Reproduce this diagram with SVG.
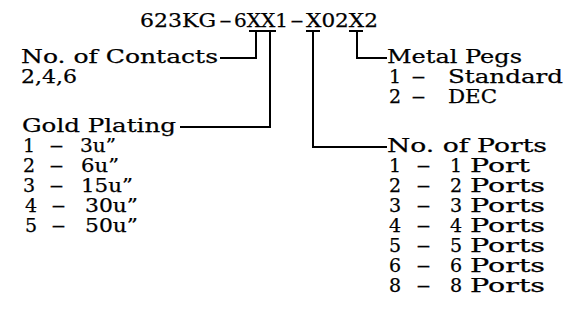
<svg xmlns="http://www.w3.org/2000/svg" width="569" height="325" viewBox="0 0 569 325">
<style>
text{font-family:"DejaVu Serif","Liberation Serif",serif;font-size:19px;fill:#000;stroke:#000;stroke-width:0.25}
.c{fill:none;stroke:#000;stroke-width:2}
</style>
<rect width="569" height="325" fill="#fff"/>
<g id="title">
<text x="140" y="27" textLength="76" lengthAdjust="spacingAndGlyphs">623KG</text>
<text x="219" y="27" textLength="13" lengthAdjust="spacingAndGlyphs">-</text>
<text x="234" y="27" textLength="54" lengthAdjust="spacingAndGlyphs">6XX1</text>
<text x="290" y="27" textLength="14" lengthAdjust="spacingAndGlyphs">-</text>
<text x="306" y="27" textLength="72" lengthAdjust="spacingAndGlyphs">X02X2</text>
<path class="c" d="M249 31H276M306 31H320M349 31H363"/>
</g>
<g id="connectors">
<path class="c" d="M256 31V58H220"/>
<path class="c" d="M270 31V127H180"/>
<path class="c" d="M313 31V147H387"/>
<path class="c" d="M357 31V58H387"/>
</g>
<g id="contacts">
<text x="21" y="63" textLength="197" lengthAdjust="spacingAndGlyphs">No. of Contacts</text>
<text x="21" y="83" textLength="56" lengthAdjust="spacingAndGlyphs">2,4,6</text>
</g>
<g id="plating">
<text x="22" y="132" textLength="154" lengthAdjust="spacingAndGlyphs">Gold Plating</text>
<text x="23" y="152">1</text><text x="49" y="152" textLength="15" lengthAdjust="spacingAndGlyphs">-</text><text x="80" y="152" textLength="36" lengthAdjust="spacingAndGlyphs">3u”</text>
<text x="23" y="172">2</text><text x="49" y="172" textLength="15" lengthAdjust="spacingAndGlyphs">-</text><text x="81" y="172" textLength="38" lengthAdjust="spacingAndGlyphs">6u”</text>
<text x="23" y="192">3</text><text x="49" y="192" textLength="15" lengthAdjust="spacingAndGlyphs">-</text><text x="81" y="192" textLength="52" lengthAdjust="spacingAndGlyphs">15u”</text>
<text x="25" y="212">4</text><text x="51" y="212" textLength="15" lengthAdjust="spacingAndGlyphs">-</text><text x="85" y="212" textLength="53" lengthAdjust="spacingAndGlyphs">30u”</text>
<text x="25" y="232">5</text><text x="51" y="232" textLength="15" lengthAdjust="spacingAndGlyphs">-</text><text x="85" y="232" textLength="53" lengthAdjust="spacingAndGlyphs">50u”</text>
</g>
<g id="pegs">
<text x="387" y="63" textLength="135" lengthAdjust="spacingAndGlyphs">Metal Pegs</text>
<text x="389" y="83">1</text><text x="411" y="83" textLength="15" lengthAdjust="spacingAndGlyphs">-</text><text x="448" y="83" textLength="115" lengthAdjust="spacingAndGlyphs">Standard</text>
<text x="389" y="103">2</text><text x="411" y="103" textLength="15" lengthAdjust="spacingAndGlyphs">-</text><text x="448" y="103" textLength="49" lengthAdjust="spacingAndGlyphs">DEC</text>
</g>
<g id="ports">
<text x="387" y="152" textLength="160" lengthAdjust="spacingAndGlyphs">No. of Ports</text>
<text x="389" y="172">1</text><text x="416" y="172" textLength="15" lengthAdjust="spacingAndGlyphs">-</text><text x="450" y="172">1</text><text x="470" y="172" textLength="60" lengthAdjust="spacingAndGlyphs">Port</text>
<text x="389" y="192">2</text><text x="416" y="192" textLength="15" lengthAdjust="spacingAndGlyphs">-</text><text x="450" y="192">2</text><text x="470" y="192" textLength="75" lengthAdjust="spacingAndGlyphs">Ports</text>
<text x="389" y="212">3</text><text x="416" y="212" textLength="15" lengthAdjust="spacingAndGlyphs">-</text><text x="450" y="212">3</text><text x="470" y="212" textLength="75" lengthAdjust="spacingAndGlyphs">Ports</text>
<text x="389" y="232">4</text><text x="416" y="232" textLength="15" lengthAdjust="spacingAndGlyphs">-</text><text x="450" y="232">4</text><text x="470" y="232" textLength="75" lengthAdjust="spacingAndGlyphs">Ports</text>
<text x="389" y="252">5</text><text x="416" y="252" textLength="15" lengthAdjust="spacingAndGlyphs">-</text><text x="450" y="252">5</text><text x="470" y="252" textLength="75" lengthAdjust="spacingAndGlyphs">Ports</text>
<text x="389" y="272">6</text><text x="416" y="272" textLength="15" lengthAdjust="spacingAndGlyphs">-</text><text x="450" y="272">6</text><text x="470" y="272" textLength="75" lengthAdjust="spacingAndGlyphs">Ports</text>
<text x="389" y="292">8</text><text x="416" y="292" textLength="15" lengthAdjust="spacingAndGlyphs">-</text><text x="450" y="292">8</text><text x="470" y="292" textLength="75" lengthAdjust="spacingAndGlyphs">Ports</text>
</g>
</svg>
